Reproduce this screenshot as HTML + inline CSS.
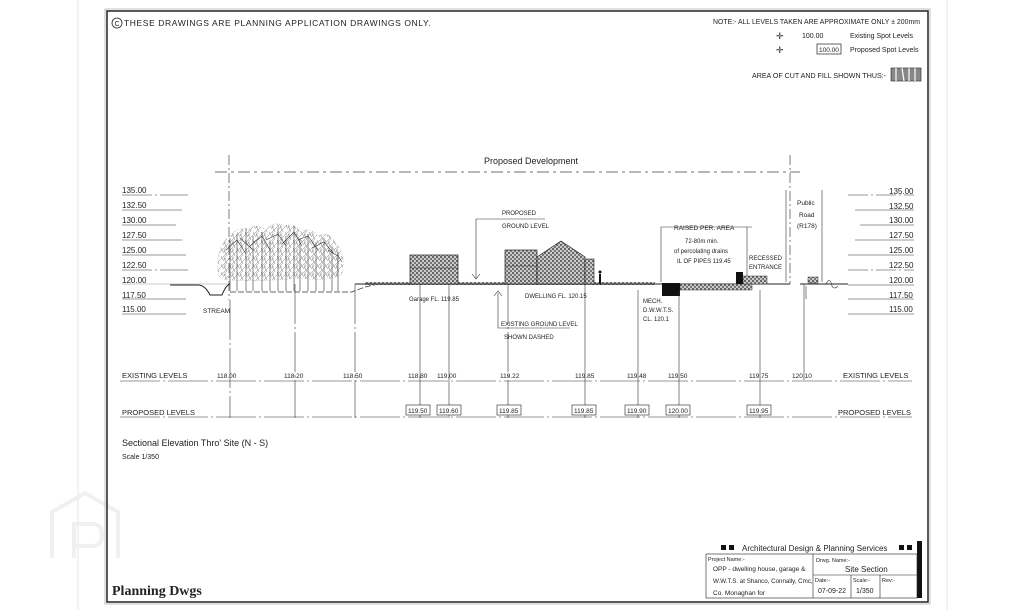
<!DOCTYPE html>
<html><head><meta charset="utf-8"><style>
html,body{margin:0;padding:0;background:#fff;}
svg{display:block;}
text{font-family:"Liberation Sans",sans-serif;fill:#222;}
</style></head><body>
<svg width="1024" height="610" viewBox="0 0 1024 610" xmlns="http://www.w3.org/2000/svg">
<defs>
<pattern id="h" width="4" height="4" patternUnits="userSpaceOnUse">
<rect width="4" height="4" fill="#ccc"/><rect width="2" height="2" fill="#666"/><rect x="2" y="2" width="2" height="2" fill="#777"/>
</pattern>
<pattern id="sc" width="8" height="8" patternUnits="userSpaceOnUse">
<path d="M0 8 L8 0 M0 2 L3 8 M5 0 L8 5 M1 0 V4" stroke="#555" stroke-width="0.4" fill="none"/>
</pattern>
</defs>
<line x1="78" y1="0" x2="78" y2="610" stroke="#e4e4e4" stroke-width="1"/>
<line x1="947" y1="0" x2="947" y2="610" stroke="#e4e4e4" stroke-width="1"/>
<g fill="none" stroke="#f0f0f0" stroke-width="4"><path d="M52 558 V512 L85 493 L118 512 V558"/><path d="M74 558 V524 H92 Q102 524 102 535 Q102 546 92 546 H74"/></g>
<rect x="107" y="11" width="821" height="591" fill="none" stroke="#222" stroke-width="1.5"/>
<rect x="105" y="9" width="825" height="595" fill="none" stroke="#999" stroke-width="0.6"/>
<g font-size="8.5">
<circle cx="117" cy="23" r="5" fill="none" stroke="#222" stroke-width="0.8"/><text x="114.5" y="26" font-size="7">C</text>
<text x="124" y="26" letter-spacing="0.6">THESE DRAWINGS ARE PLANNING APPLICATION DRAWINGS ONLY.</text>
</g>
<g font-size="7">
<text x="713" y="24" textLength="207" lengthAdjust="spacingAndGlyphs">NOTE:- ALL LEVELS TAKEN ARE APPROXIMATE ONLY ± 200mm</text>
<text x="802" y="38">100.00</text><text x="850" y="38">Existing Spot Levels</text>
<text x="776" y="39" font-size="9">✛</text>
<rect x="817" y="44" width="24" height="10" fill="none" stroke="#222" stroke-width="0.7"/><text x="819" y="52" font-size="6.5">100.00</text><text x="850" y="52">Proposed Spot Levels</text>
<text x="776" y="53" font-size="9">✛</text>
<text x="752" y="78" textLength="134" lengthAdjust="spacingAndGlyphs">AREA OF CUT AND FILL SHOWN THUS:-</text>
</g>
<rect x="891" y="68" width="30" height="13" fill="#888" stroke="#222" stroke-width="0.6"/>
<g stroke="#fff" stroke-width="1.2"><line x1="896" y1="68" x2="896" y2="81"/><line x1="902" y1="68" x2="904" y2="81"/><line x1="909" y1="68" x2="909" y2="81"/><line x1="915" y1="68" x2="915" y2="81"/></g>
<text x="484" y="164" font-size="9">Proposed Development</text>
<line x1="215" y1="172" x2="800" y2="172" stroke="#444" stroke-width="0.7" stroke-dasharray="12,4,3,4"/>
<line x1="229" y1="155" x2="229" y2="300" stroke="#444" stroke-width="0.7" stroke-dasharray="10,3,2,3"/>
<line x1="790" y1="155" x2="790" y2="284" stroke="#444" stroke-width="0.7" stroke-dasharray="10,3,2,3"/>
<g font-size="8">
<text x="122" y="193">135.00</text><text x="122" y="208">132.50</text><text x="122" y="223">130.00</text><text x="122" y="238">127.50</text><text x="122" y="253">125.00</text><text x="122" y="268">122.50</text><text x="122" y="283">120.00</text><text x="122" y="298">117.50</text><text x="122" y="312">115.00</text>
<text x="889" y="194">135.00</text><text x="889" y="209">132.50</text><text x="889" y="223">130.00</text><text x="889" y="238">127.50</text><text x="889" y="253">125.00</text><text x="889" y="268">122.50</text><text x="889" y="283">120.00</text><text x="889" y="298">117.50</text><text x="889" y="312">115.00</text>
</g>
<g stroke="#333" stroke-width="0.6">
<line x1="122" y1="195" x2="188" y2="195" stroke-dasharray="30,3,2,3"/><line x1="122" y1="210" x2="182" y2="210"/><line x1="122" y1="225" x2="176" y2="225"/><line x1="122" y1="240" x2="182" y2="240"/><line x1="122" y1="255" x2="186" y2="255"/><line x1="122" y1="270" x2="188" y2="270" stroke-dasharray="30,3,2,3"/><line x1="122" y1="284" x2="230" y2="284" stroke="#999"/><line x1="122" y1="299" x2="186" y2="299"/><line x1="122" y1="314" x2="186" y2="314"/>
<line x1="848" y1="195" x2="914" y2="195" stroke-dasharray="20,3,2,3"/><line x1="855" y1="210" x2="914" y2="210"/><line x1="860" y1="225" x2="914" y2="225"/><line x1="855" y1="240" x2="914" y2="240"/><line x1="848" y1="255" x2="914" y2="255"/><line x1="848" y1="270" x2="914" y2="270" stroke-dasharray="20,3,2,3"/><line x1="848" y1="285" x2="914" y2="285"/><line x1="848" y1="299" x2="914" y2="299"/><line x1="848" y1="314" x2="914" y2="314"/>
</g>
<g fill="url(#sc)" stroke="#999" stroke-width="0.4" stroke-dasharray="1,1.5">
<path d="M218 272 Q216 245 230 236 Q238 226 248 230 Q256 222 266 230 Q274 220 284 226 Q294 222 300 232 Q310 226 318 236 Q330 230 336 244 Q346 252 342 274 Q330 282 300 278 Q260 282 230 280 Q218 280 218 272Z"/>
</g>
<g stroke="#333" stroke-width="0.6" fill="none">
<path d="M230 291 V238 M237 291 V234 M246 291 V228 M253 291 V236 M262 291 V232 M270 291 V242 M278 291 V228 M286 291 V236 M294 291 V226 M300 291 V238 M308 291 V234 M316 291 V242 M324 291 V238 M332 291 V246 M338 291 V252"/>
<path d="M226 250 L237 240 L246 254 M240 238 L253 250 M250 246 L262 236 L270 250 M266 240 L278 234 L286 246 M282 244 L294 232 L302 246 M298 240 L308 236 L318 250 M312 248 L324 242 L334 254 M328 250 L338 256 L342 262"/>
</g>
<path d="M170 285 H198 Q205 285 210 295 H222 Q226 285 230 284" fill="none" stroke="#222" stroke-width="1"/>
<text x="203" y="313" font-size="6.5">STREAM</text>
<path d="M230 292 H352 Q370 284 390 283 H415" fill="none" stroke="#333" stroke-width="0.8" stroke-dasharray="6,2"/>
<rect x="365" y="282" width="290" height="3" fill="url(#h)"/>
<line x1="355" y1="284" x2="790" y2="284" stroke="#222" stroke-width="1"/>
<line x1="800" y1="284" x2="848" y2="284" stroke="#222" stroke-width="1"/>
<rect x="410" y="255" width="48" height="29" fill="url(#h)" stroke="#222" stroke-width="0.7"/>
<line x1="410" y1="268" x2="458" y2="268" stroke="#333" stroke-width="0.5"/>
<text x="409" y="301" font-size="6">Garage FL. 119.85</text>
<rect x="505" y="250" width="32" height="34" fill="url(#h)" stroke="#222" stroke-width="0.7"/>
<line x1="505" y1="266" x2="537" y2="266" stroke="#333" stroke-width="0.5"/>
<path d="M537 284 V257 L561 241 L585 257 V284Z" fill="url(#h)" stroke="#222" stroke-width="0.7"/>
<rect x="585" y="259" width="9" height="25" fill="url(#h)" stroke="#222" stroke-width="0.6"/>
<rect x="599" y="274" width="2" height="10" fill="#111"/><circle cx="600" cy="272" r="1.5" fill="#111"/>
<text x="525" y="298" font-size="6">DWELLING FL. 120.15</text>
<g stroke="#333" stroke-width="0.6" fill="none">
<path d="M476 278 V219 H545"/><path d="M472 274 L476 279 L480 274"/>
<path d="M498 293 V328 H570"/><path d="M494 296 L498 291 L502 296"/>
</g>
<text x="502" y="215" font-size="6">PROPOSED</text>
<text x="502" y="228" font-size="6">GROUND LEVEL</text>
<text x="501" y="326" font-size="6">EXISTING GROUND LEVEL</text>
<text x="504" y="339" font-size="6">SHOWN DASHED</text>
<g stroke="#333" stroke-width="0.6" fill="none"><path d="M661 282 V227 H752"/><path d="M747 227 V282"/></g>
<text x="674" y="230" font-size="6.5">RAISED PER. AREA</text>
<text x="685" y="243" font-size="6">72-80m min.</text>
<text x="674" y="253" font-size="6">of percolating drains</text>
<text x="677" y="263" font-size="6">IL OF PIPES 119.45</text>
<text x="749" y="260" font-size="6">RECESSED</text>
<text x="749" y="269" font-size="6">ENTRANCE</text>
<rect x="680" y="284" width="72" height="6" fill="url(#h)" stroke="#333" stroke-width="0.5"/>
<rect x="662" y="283" width="18" height="13" fill="#111"/>
<rect x="736" y="272" width="7" height="12" fill="#111"/>
<rect x="743" y="276" width="24" height="8" fill="url(#h)" stroke="#333" stroke-width="0.5"/>
<text x="643" y="303" font-size="6">MECH.</text>
<text x="643" y="312" font-size="6">D.W.W.T.S.</text>
<text x="643" y="321" font-size="6">CL. 120.1</text>
<g stroke="#333" stroke-width="0.6" fill="none"><path d="M786 190 V282"/><path d="M822 190 V282"/><path d="M806 286 V299 M826 284 Q830 276 832 286 Q834 290 838 286"/></g>
<rect x="808" y="277" width="10" height="6" fill="url(#h)" stroke="#333" stroke-width="0.5"/>
<text x="797" y="205" font-size="6.5">Public</text>
<text x="799" y="217" font-size="6.5">Road</text>
<text x="797" y="228" font-size="6.5">(R178)</text>
<g stroke="#333" stroke-width="0.6">
<line x1="230" y1="300" x2="230" y2="418" stroke-dasharray="40,3,2,3"/>
<line x1="295" y1="284" x2="295" y2="418" stroke-dasharray="40,3,2,3"/>
<line x1="355" y1="284" x2="355" y2="418" stroke-dasharray="40,3,2,3"/>
<line x1="420" y1="284" x2="420" y2="418"/>
<line x1="449" y1="284" x2="449" y2="418"/>
<line x1="508" y1="284" x2="508" y2="418" stroke-dasharray="40,3,2,3"/>
<line x1="585" y1="284" x2="585" y2="418"/>
<line x1="638" y1="290" x2="638" y2="418"/>
<line x1="679" y1="290" x2="679" y2="418"/>
<line x1="760" y1="290" x2="760" y2="418"/>
<line x1="804" y1="284" x2="804" y2="380"/>
<line x1="120" y1="381" x2="912" y2="381" stroke-dasharray="40,3,2,3"/>
<line x1="120" y1="417" x2="912" y2="417" stroke-dasharray="40,3,2,3"/>
</g>
<g font-size="7.5"><text x="122" y="378">EXISTING LEVELS</text><text x="843" y="378">EXISTING LEVELS</text>
<text x="122" y="415">PROPOSED LEVELS</text><text x="838" y="415">PROPOSED LEVELS</text></g>
<g font-size="6.5">
<text x="217" y="378">118.00</text>
<text x="284" y="378">118.20</text><text x="343" y="378">118.50</text><text x="408" y="378">118.80</text><text x="437" y="378">119.00</text>
<text x="500" y="378">119.22</text><text x="575" y="378">119.85</text><text x="627" y="378">119.48</text><text x="668" y="378">119.50</text>
<text x="749" y="378">119.75</text><text x="792" y="378">120.10</text>
</g>
<g stroke="#222" stroke-width="0.6" fill="#fff">
<rect x="406" y="405" width="24" height="10"/><rect x="437" y="405" width="24" height="10"/><rect x="497" y="405" width="24" height="10"/><rect x="572" y="405" width="24" height="10"/><rect x="625" y="405" width="24" height="10"/><rect x="666" y="405" width="24" height="10"/><rect x="747" y="405" width="24" height="10"/>
</g>
<g font-size="6.5"><text x="408" y="413">119.50</text><text x="439" y="413">119.60</text><text x="499" y="413">119.85</text><text x="574" y="413">119.85</text><text x="627" y="413">119.90</text><text x="668" y="413">120.00</text><text x="749" y="413">119.95</text></g>
<text x="122" y="446" font-size="9">Sectional Elevation Thro' Site   (N - S)</text>
<text x="122" y="459" font-size="7">Scale   1/350</text>
<rect x="917" y="541" width="5" height="57" fill="#111"/>
<g font-size="8"><rect x="721" y="545" width="5" height="5" fill="#111"/><rect x="729" y="545" width="5" height="5" fill="#111"/><text x="742" y="551">Architectural Design &amp; Planning Services</text><rect x="899" y="545" width="5" height="5" fill="#111"/><rect x="907" y="545" width="5" height="5" fill="#111"/></g>
<g fill="none" stroke="#222" stroke-width="0.6"><rect x="706" y="554" width="211" height="44"/><line x1="813" y1="554" x2="813" y2="598"/><line x1="813" y1="575" x2="917" y2="575"/><line x1="851" y1="575" x2="851" y2="598"/><line x1="880" y1="575" x2="880" y2="598"/></g>
<g font-size="5.5"><text x="708" y="561">Project Name:-</text><text x="713" y="571" font-size="6.5">OPP - dwelling house, garage &amp;</text><text x="713" y="583" font-size="6.2">W.W.T.S. at Shanco, Connally, Cmc,</text><text x="713" y="595" font-size="6.5">Co. Monaghan for</text>
<text x="816" y="562">Drwg. Name:-</text><text x="845" y="572" font-size="8">Site Section</text>
<text x="815" y="582">Date:-</text><text x="818" y="593" font-size="7">07-09-22</text><text x="853" y="582">Scale:-</text><text x="856" y="593" font-size="7">1/350</text><text x="882" y="582">Rev:-</text></g>
<text x="112" y="595" font-size="14" font-weight="bold" style="font-family:'Liberation Serif',serif">Planning Dwgs</text>
</svg>
</body></html>
